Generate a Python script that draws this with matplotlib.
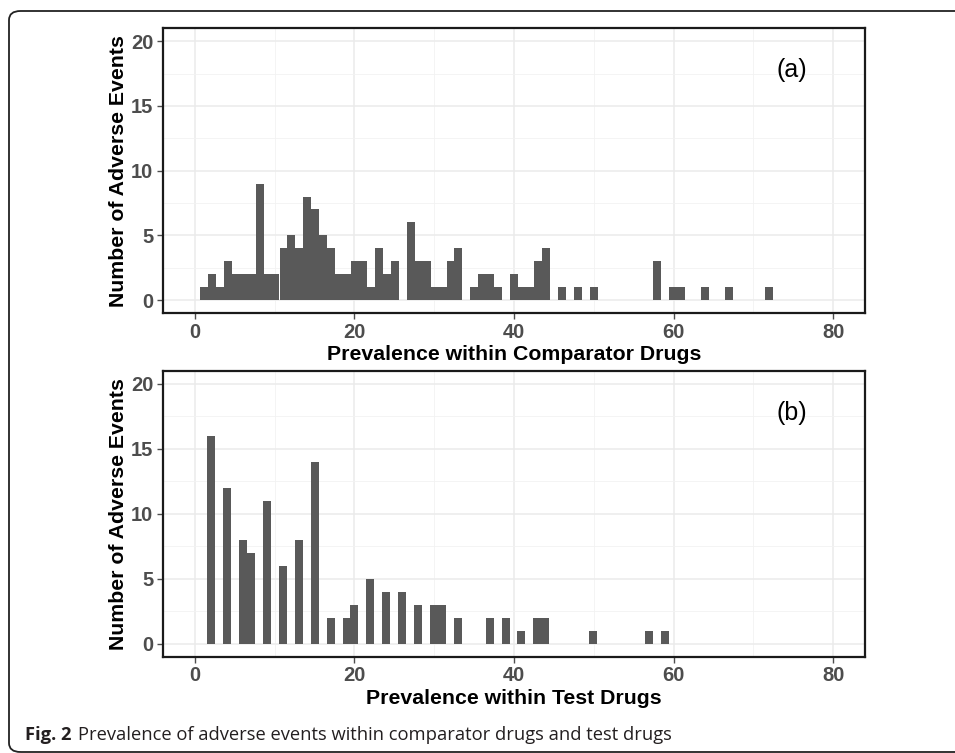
import matplotlib
matplotlib.use("Agg")
import matplotlib.pyplot as plt
from matplotlib.patches import FancyBboxPatch
from matplotlib.ticker import MultipleLocator

# Histogram bins (bin midpoints, counts)
comp_prev = [1.13, 2.13, 3.12, 4.12, 5.12, 6.12, 7.11, 8.11, 9.11, 10.10,
             11.10, 12.10, 13.09, 14.09, 15.09, 16.09, 17.08, 18.08, 19.08, 20.07,
             21.07, 22.07, 23.06, 24.06, 25.06, 27.05, 28.05, 29.05, 30.04, 31.04,
             32.04, 33.03, 35.03, 36.03, 37.02, 38.02, 40.01, 41.01, 42.01, 43.00,
             44.00, 46.00, 47.99, 49.98, 57.96, 59.95, 60.95, 63.94, 66.93, 71.92]
comp_counts = [1, 2, 1, 3, 2, 2, 2, 9, 2, 2,
               4, 5, 4, 8, 7, 5, 4, 2, 2, 3,
               3, 1, 4, 2, 3, 6, 3, 3, 1, 1,
               3, 4, 1, 2, 2, 1, 2, 1, 1, 3,
               4, 1, 1, 1, 3, 1, 1, 1, 1, 1]

test_prev = [2.05, 4.04, 6.04, 7.04, 9.03, 11.02, 13.02, 15.01, 17.01, 19.00,
             19.99, 21.99, 23.98, 25.98, 27.97, 29.97, 30.96, 32.96, 36.95, 38.94,
             40.93, 42.93, 43.92, 49.91, 56.89, 58.88]
test_counts = [16, 12, 8, 7, 11, 6, 8, 14, 2, 2,
               3, 5, 4, 4, 3, 3, 3, 2, 2, 2,
               1, 2, 2, 1, 1, 1]
bin_width = 0.997

panels = [
    (comp_prev, comp_counts, "Prevalence within Comparator Drugs", "(a)"),
    (test_prev, test_counts, "Prevalence within Test Drugs", "(b)"),
]

fig = plt.figure(figsize=(9.55, 7.53), dpi=100)
fig.patch.set_facecolor("white")

# rounded frame around the figure (open on the right side like the journal page)
frame = FancyBboxPatch((9 / 955, 1 / 753), 1.2, 741 / 753,
                       boxstyle="round,pad=0,rounding_size=0.012",
                       transform=fig.transFigure, fill=False,
                       edgecolor="#222222", linewidth=1.3, clip_on=False)
fig.patches.append(frame)

positions = [[0.1707, 0.5843, 0.7351, 0.3781],
             [0.1707, 0.1279, 0.7351, 0.3794]]

for pos, (prev, counts, xlab, tag) in zip(positions, panels):
    ax = fig.add_axes(pos)
    ax.bar(prev, counts, width=bin_width, color="#595959", linewidth=0, zorder=3)
    ax.set_xlim(-4, 84)
    ax.set_ylim(-1, 21)
    ax.xaxis.set_major_locator(MultipleLocator(20))
    ax.xaxis.set_minor_locator(MultipleLocator(10))
    ax.yaxis.set_major_locator(MultipleLocator(5))
    ax.yaxis.set_minor_locator(MultipleLocator(2.5))
    ax.grid(which="major", color="#ebebeb", linewidth=1.1, zorder=0)
    ax.grid(which="minor", color="#f2f2f2", linewidth=0.6, zorder=0)
    ax.set_axisbelow(True)
    for s in ax.spines.values():
        s.set_color("#1a1a1a")
        s.set_linewidth(1.6)
    ax.tick_params(which="major", length=4, width=1, color="#4d4d4d",
                   labelsize=14.5, labelcolor="#4d4d4d", pad=3)
    ax.tick_params(which="minor", length=0)
    for lbl in ax.get_xticklabels() + ax.get_yticklabels():
        lbl.set_fontweight("bold")
        lbl.set_fontfamily("Liberation Sans")
    ax.set_xlabel(xlab, fontsize=15.3, fontweight="bold", family="Liberation Sans")
    ax.set_ylabel("Number of Adverse Events", fontsize=15.3, fontweight="bold",
                  family="Liberation Sans")
    ax.xaxis.set_label_coords(0.5, -0.145)
    ax.xaxis.label.set_va("center")
    ax.yaxis.set_label_coords(-0.063, 0.5)
    ax.yaxis.label.set_va("center")
    ax.text(74.8, 17.8, tag, fontsize=18, family="Liberation Sans",
            ha="center", va="center", color="black")

fig.text(25 / 955, 1 - 735 / 753, "Fig. 2", fontsize=13.2, fontweight="bold",
         family="Open Sans", color="#231f20", va="center", ha="left")
fig.text(78 / 955, 1 - 735 / 753,
         "Prevalence of adverse events within comparator drugs and test drugs",
         fontsize=13.2, family="Open Sans", color="#231f20", va="center", ha="left")

fig.savefig("out.png", dpi=100)
